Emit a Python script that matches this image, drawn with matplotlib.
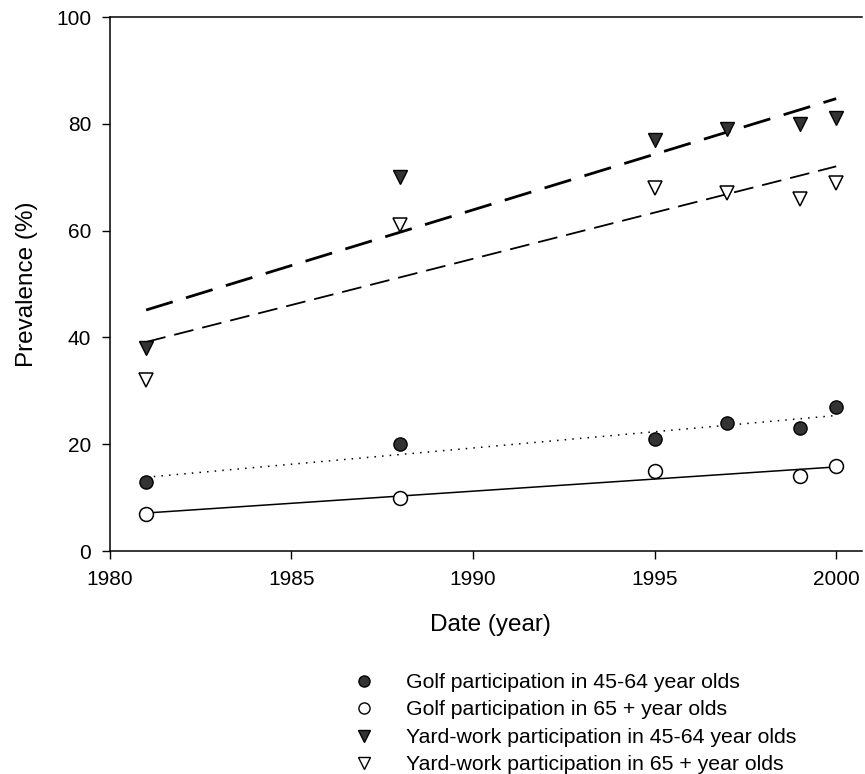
import numpy as np
import matplotlib
matplotlib.use("Agg")
import matplotlib.pyplot as plt
from matplotlib.lines import Line2D

plt.rcParams['font.family'] = ['Liberation Sans', 'DejaVu Sans']

# Survey years and prevalence values (%)
years_golf_4564 = [1981, 1988, 1995, 1997, 1999, 2000]
golf_4564 = [13, 20, 21, 24, 23, 27]

years_golf_65 = [1981, 1988, 1995, 1999, 2000]
golf_65 = [7, 10, 15, 14, 16]

years_yard_4564 = [1981, 1988, 1995, 1997, 1999, 2000]
yard_4564 = [38, 70, 77, 79, 80, 81]

years_yard_65 = [1981, 1988, 1995, 1997, 1999, 2000]
yard_65 = [32, 61, 68, 67, 66, 69]

labels = [
    "Golf participation in 45-64 year olds",
    "Golf participation in 65 + year olds",
    "Yard-work participation in 45-64 year olds",
    "Yard-work participation in 65 + year olds",
]

fig = plt.figure(figsize=(8.65, 7.74), dpi=100)
ax = fig.add_axes([0.127, 0.288, 0.8695, 0.690])


def fit_line(xs, ys, **kw):
    xs = np.asarray(xs, float)
    slope, icept = np.polyfit(xs, ys, 1)
    xe = np.array([xs.min(), xs.max()])
    ax.plot(xe, slope * xe + icept, color='black', **kw)


# Least-squares trend lines
fit_line(years_yard_4564, yard_4564, lw=2.0, dashes=(10, 5))
fit_line(years_yard_65, yard_65, lw=1.3, dashes=(11, 5))
fit_line(years_golf_4564, golf_4564, lw=1.1, dashes=(1, 4))
fit_line(years_golf_65, golf_65, lw=1.1, ls='-')

# Data points
ax.plot(years_golf_4564, golf_4564, 'o', ms=9.5, mfc='#333333', mec='black', mew=1.0, zorder=3)
ax.plot(years_golf_65, golf_65, 'o', ms=10, mfc='white', mec='black', mew=1.1, zorder=3)
ax.plot(years_yard_4564, yard_4564, 'v', ms=9.5, mfc='#333333', mec='black', mew=1.0, zorder=3)
ax.plot(years_yard_65, yard_65, 'v', ms=9.5, mfc='white', mec='black', mew=1.1, zorder=3)

ax.set_xlim(1980, 2000.71)
ax.set_ylim(0, 100)
ax.set_xticks([1980, 1985, 1990, 1995, 2000])
ax.set_yticks([0, 20, 40, 60, 80, 100])
ax.spines['right'].set_visible(False)
for s in ('left', 'bottom', 'top'):
    ax.spines[s].set_linewidth(1.1)
ax.tick_params(direction='out', length=5.5, width=1.0, labelsize=15, pad=8)
ax.tick_params(axis='x', top=False)

ax.set_xlabel("Date (year)", fontsize=17.5)
ax.set_ylabel("Prevalence (%)", fontsize=17.5)
ax.xaxis.set_label_coords(0.506, -0.118)
ax.yaxis.set_label_coords(-0.095, 0.5)

handles = [
    Line2D([], [], ls='none', marker='o', ms=8, mfc='#333333', mec='black'),
    Line2D([], [], ls='none', marker='o', ms=8, mfc='white', mec='black'),
    Line2D([], [], ls='none', marker='v', ms=8, mfc='#333333', mec='black'),
    Line2D([], [], ls='none', marker='v', ms=8, mfc='white', mec='black'),
]
fig.legend(handles, labels, loc='upper left', bbox_to_anchor=(0.409, 0.1305),
           frameon=False, fontsize=15.3, handlelength=1.0, handletextpad=1.45,
           labelspacing=0.40, borderaxespad=0, borderpad=0)

fig.savefig("out.png", dpi=100)
